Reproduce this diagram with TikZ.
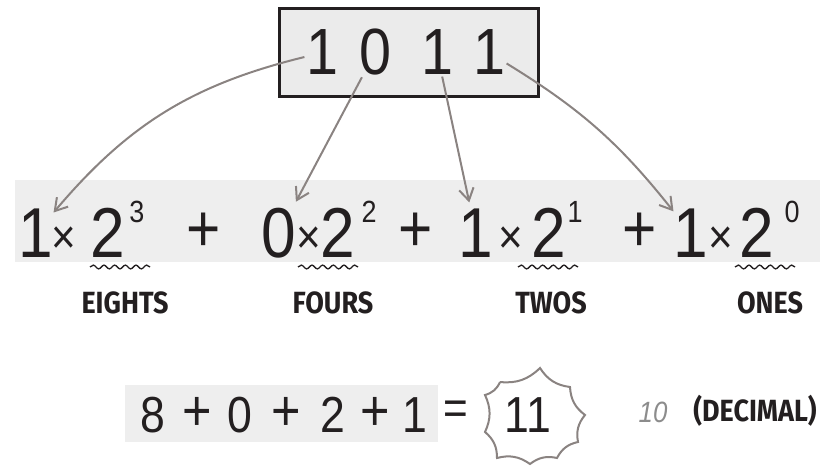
\documentclass[tikz,border=0pt]{standalone}
\usepackage{fontspec}
\setmainfont{Liberation Sans}[FakeStretch=0.88]
\newfontfamily\comicfont{Fira Sans}[FakeStretch=0.88]
\usetikzlibrary{arrows.meta,positioning,calc,decorations.pathmorphing}
\definecolor{ink}{HTML}{231F20}
\definecolor{bandgray}{HTML}{EEEEEE}
\definecolor{boxgray}{HTML}{EBEBEB}
\definecolor{arrowgray}{HTML}{8A8381}
\definecolor{subgray}{HTML}{8C8C8C}
\newcommand{\one}{\makebox[0.3em]{1}}
\newcommand{\tms}{\makebox[0.4em]{×}}

\begin{document}
\begin{tikzpicture}[
  x=0.75pt, y=-0.75pt,
  every node/.style={text=ink, inner sep=1pt},
  topdig/.style={font=\fontsize{49}{54}\selectfont, anchor=base},
  bigdig/.style={font=\fontsize{53}{58}\selectfont, anchor=base, inner sep=5pt},
  sumdig/.style={font=\fontsize{38}{42}\selectfont, anchor=base},
  expo/.style={font=\fontsize{23}{26}\selectfont, anchor=base},
  tim/.style={font=\fontsize{36}{40}\selectfont, inner sep=0pt},
  plus/.style={font=\fontsize{50}{54}\selectfont, inner sep=0pt},
  smallplus/.style={font=\fontsize{43}{46}\selectfont, inner sep=0pt},
  lbl/.style={font=\comicfont\bfseries\fontsize{23}{26}\selectfont},
  binbox/.style={rectangle, draw=ink, line width=2.25pt, fill=boxgray, minimum width=194pt, minimum height=66pt},
  arr/.style={-{Straight Barb[length=9pt,width=11pt]}, line width=1.5pt, draw=arrowgray},
  wavy/.style={decorate, decoration={snake, amplitude=1.4pt, segment length=8pt}, line width=1pt, draw=ink},
  burst/.style={draw=arrowgray, line width=1.5pt, fill=white},
]
\useasboundingbox (0,0) rectangle (820,466);

% binary number
\node[binbox] (word) at (409,52.5) {};
\node[topdig] (tb1) at (322,75) {1};
\node[topdig] (tb2) at (375,75) {0};
\node[topdig] (tb3) at (437,75) {1};
\node[topdig] (tb4) at (489,75) {1};

% expanded sum
\fill[bandgray] (15,180) rectangle (820,262);
\node[bigdig] (c1) at (36,258) {\one};
\node[tim] (x1) at (64,240) {\tms};
\node[bigdig] (b1) at (108,258) {2};
\node[expo] (e1) at (137,223) {3};
\node[plus] (p1) at (204,232) {+};
\node[bigdig] (c2) at (279,258) {0};
\node[tim] (x2) at (309,240) {\tms};
\node[bigdig] (b2) at (338,258) {2};
\node[expo] (e2) at (369,223) {2};
\node[plus] (p2) at (416,232) {+};
\node[bigdig] (c3) at (476,258) {\one};
\node[tim] (x3) at (511,240) {\tms};
\node[bigdig] (b3) at (549,258) {2};
\node[expo] (e3) at (575,223) {1};
\node[plus] (p3) at (640,232) {+};
\node[bigdig] (c4) at (691,258) {\one};
\node[tim] (x4) at (721,240) {\tms};
\node[bigdig] (b4) at (757,258) {2};
\node[expo] (e4) at (792,223) {0};

\draw[arr] (tb1) to[bend right=18] (c1);
\draw[arr] (tb2) -- (c2);
\draw[arr] (tb3) -- (c3);
\draw[arr] (tb4) to[bend left=10] (c4);

% place names
\node[lbl] (l1) at (125,303) {EIGHTS};
\node[lbl] (l2) at (333,303) {FOURS};
\node[lbl] (l3) at (551,303) {TWOS};
\node[lbl] (l4) at (770,303) {ONES};
\draw[wavy] ([shift={(-35,-36)}]l1.center) -- ([shift={(25,-36)}]l1.center);
\draw[wavy] ([shift={(-35,-36)}]l2.center) -- ([shift={(25,-36)}]l2.center);
\draw[wavy] ([shift={(-33,-36)}]l3.center) -- ([shift={(27,-36)}]l3.center);
\draw[wavy] ([shift={(-35,-36)}]l4.center) -- ([shift={(25,-36)}]l4.center);

% result
\fill[bandgray] (125,385) rectangle (438,442);
\node[sumdig] (n8) at (153,432) {8};
\node[smallplus] (q1) at (197,414) {+};
\node[sumdig] (n0) at (240,432) {0};
\node[smallplus] (q2) at (286,414) {+};
\node[sumdig] (n2) at (333,432) {2};
\node[smallplus] (q3) at (375,414) {+};
\node[sumdig] (n1) at (415,432) {1};
\node[tim] (eq) at (456,413) {=};
\coordinate (s1) at (500,382);
\coordinate (s2) at (540,368);
\coordinate (s3) at (570,387);
\coordinate (s4) at (585,415);
\coordinate (s5) at (578,442);
\coordinate (s6) at (557,458);
\coordinate (s7) at (530,464);
\coordinate (s8) at (497,458);
\coordinate (s9) at (485,432);
\coordinate (s10) at (485,395);
\draw[burst] (s1) to[bend right=25] (s2) to[bend right=25] (s3) to[bend right=25] (s4)
  to[bend right=25] (s5) to[bend right=25] (s6) to[bend right=25] (s7) to[bend right=25] (s8)
  to[bend right=25] (s9) to[bend right=25] (s10) to[bend right=25] (s1);
\node[sumdig] (res) at (528,432) {11};
\node[font=\itshape\fontsize{22}{26}\selectfont, text=subgray] (sub) at (653,412) {10};
\node[lbl] (dec) at (755,411) {(DECIMAL)};
\end{tikzpicture}
\end{document}
